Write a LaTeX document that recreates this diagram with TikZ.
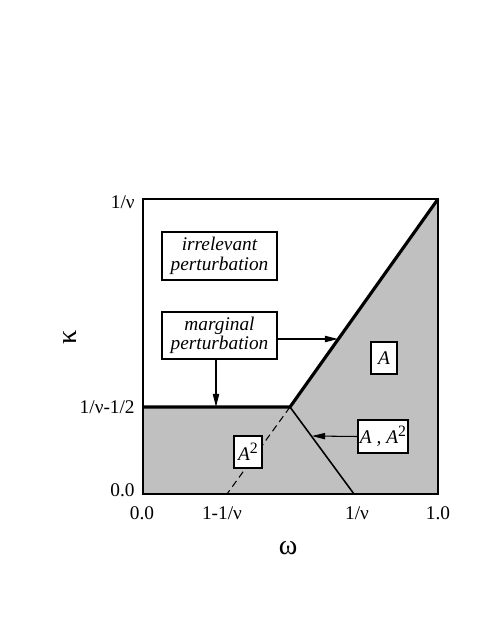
\documentclass[tikz,border=0pt]{standalone}
\usepackage{fontspec}
\setmainfont{Liberation Serif}
\usetikzlibrary{arrows.meta}
\definecolor{regiongray}{RGB}{192,192,192}
\newcommand{\sqmark}{\raisebox{0.75ex}{\fontsize{9}{9}\selectfont\upshape 2}}

\begin{document}
\begin{tikzpicture}[x=0.02cm,y=-0.02cm,
        lbl/.style={rectangle,draw,fill=white,line width=0.6pt,align=center,
          inner sep=1pt,font=\fontsize{11}{11}\selectfont\itshape},
        tick/.style={font=\fontsize{11}{12}\selectfont,inner sep=0pt},
        axis/.style={font=\fontsize{16}{17}\selectfont,inner sep=0pt},
        arrow/.style={-{Triangle[length=7.5pt,width=3.6pt]},line width=0.6pt}]
        \useasboundingbox (0,0) rectangle (491,635);
        % plot corners and kinks
        \coordinate (ll) at (143,494);
        \coordinate (lr) at (438,494);
        \coordinate (ur) at (438,199);
        \coordinate (ul) at (143,199);
        \coordinate (ml) at (143,407);
        \coordinate (kink) at (290,407);
        \coordinate (dashend) at (227,494);
        \coordinate (solidend) at (354,494);
        \coordinate (hitup) at (338,339);
        \coordinate (hitmid) at (216,407);
        \coordinate (hitlow) at (312,436);
        % shaded region
        \fill[regiongray] (ml) -- (kink) -- (ur) -- (lr) -- (ll) -- cycle;
        \draw[line width=0.6pt] (ll) rectangle (ur);
        \draw[line width=1.8pt] (ml) -- (kink) -- (ur);
        \draw[line width=0.9pt] (kink) -- (solidend);
        \draw[line width=0.6pt,dash pattern=on 4pt off 2.5pt] (kink) -- (dashend);
        % boxes
        \node[lbl,minimum width=2.3cm,minimum height=0.96cm] (irr) at (219.5,256) {irrelevant\\perturbation};
        \node[lbl,minimum width=2.3cm,minimum height=0.94cm] (marg) at (219.5,335.5) {marginal\\perturbation};
        \node[lbl,minimum width=0.52cm,minimum height=0.64cm] (a) at (384,358) {A};
        \node[lbl,minimum width=1.0cm,minimum height=0.66cm] (aa) at (383,436.5) {A , A\sqmark};
        \node[lbl,minimum width=0.56cm,minimum height=0.64cm] (asq) at (248,452) {A\sqmark};
        % arrows
        \draw[arrow] (marg.east |- hitup) -- (hitup);
        \draw[arrow] (marg.south -| hitmid) -- (hitmid);
        \draw[arrow] (aa.west) -- (hitlow);
        % tick labels
        \node[tick,anchor=east] (ytop) at (135,202) {1/ν};
        \node[tick,anchor=east] (ymid) at (135,407) {1/ν-1/2};
        \node[tick,anchor=east] (ybot) at (135,490) {0.0};
        \node[tick] (x0) at (142,513) {0.0};
        \node[tick] (x1) at (222,513) {1-1/ν};
        \node[tick] (x2) at (357,513) {1/ν};
        \node[tick] (x3) at (438,513) {1.0};
        % axis names
        \node[axis,rotate=90] (kap) at (70,337) {κ};
        \node[axis] (om) at (288,548) {ω};
      \end{tikzpicture}
\end{document}
